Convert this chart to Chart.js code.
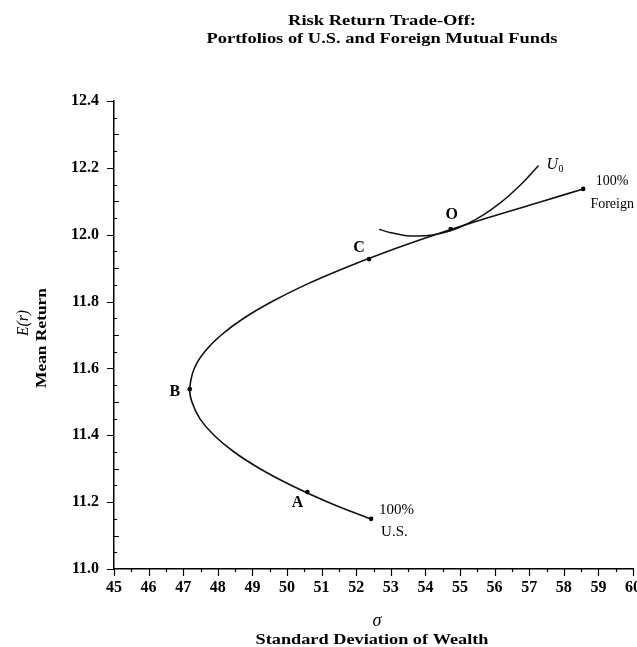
<!DOCTYPE html>
<html>
<head>
<meta charset="utf-8">
<script src="https://cdn.jsdelivr.net/npm/chart.js@4.4.1/dist/chart.umd.min.js"></script>
<style>
  html, body { margin: 0; padding: 0; background: #fff; }
</style>
</head>
<body>
<canvas id="grafico" width="637" height="647"></canvas>
<script>
// Risk / return trade-off between U.S. and foreign mutual funds.
// Values.

// efficient frontier (sigma, mean return), from 100% U.S. up to 100% Foreign
const frontierSigma = [52.40, 51.19, 50.13, 49.22, 48.47, 47.89, 47.48, 47.25, 47.19, 47.32, 47.62,
  48.10, 48.75, 49.57, 50.53, 51.65, 52.90, 54.28, 55.78, 57.39, 58.56];
const frontierReturn = [11.15, 11.20, 11.25, 11.30, 11.35, 11.40, 11.45, 11.50, 11.54, 11.60, 11.65,
  11.70, 11.75, 11.80, 11.85, 11.90, 11.95, 12.00, 12.05, 12.10, 12.137];

// indifference curve U0
const indiffSigma = [52.66, 53.0, 53.4, 53.75, 54.2, 54.7, 55.2, 55.7, 56.2, 56.7, 57.0, 57.27];
const indiffReturn = [12.016, 12.006, 11.998, 11.996, 11.999, 12.011, 12.032, 12.061, 12.098, 12.144, 12.176, 12.207];

// marked portfolios
const pointNames = ["100% U.S.", "A", "B", "C", "O", "100% Foreign"];
const pointSigma = [52.43, 50.59, 47.19, 52.37, 54.73, 58.56];
const pointReturn = [11.15, 11.23, 11.538, 11.927, 12.017, 12.137];

const xTickValues = [45, 46, 47, 48, 49, 50, 51, 52, 53, 54, 55, 56, 57, 58, 59, 60];
const yTickValues = [11.0, 11.2, 11.4, 11.6, 11.8, 12.0, 12.2, 12.4];

const SERIF = '"Liberation Serif", "DejaVu Serif", serif';

// ============================================================
// HELPERS
// ============================================================
function toXY(xs, ys) {
  return xs.map((x, i) => ({ x, y: ys[i] }));
}

// draws text, optionally squeezed/stretched to a given width
function drawText(ctx, text, x, y, font, align = "center", width = null) {
  ctx.save();
  ctx.font = font;
  ctx.fillStyle = "#000";
  ctx.textBaseline = "middle";
  ctx.textAlign = align;
  if (width) {
    const w = ctx.measureText(text).width;
    ctx.translate(x, y);
    ctx.scale(width / w, 1);
    ctx.fillText(text, 0, 0);
  } else {
    ctx.fillText(text, x, y);
  }
  ctx.restore();
}

// ============================================================
// PLUGIN — ticks in the style of the paper, titles and labels
// ============================================================
const paperPlugin = {
  id: "paperPlugin",
  afterDraw(chart) {
    const { ctx, scales: { x, y } } = chart;
    const left = x.left;
    const bottom = y.bottom;

    ctx.save();
    ctx.strokeStyle = "#000";
    ctx.lineWidth = 1.2;
    ctx.beginPath();
    for (let i = 0; i <= 28; i++) {
      const py = Math.round(y.getPixelForValue(11 + i * 0.05)) + 0.5;
      if (i % 4 === 0) {
        ctx.moveTo(left - 7, py);
        ctx.lineTo(left, py);
      } else {
        const len = i % 2 === 0 ? 5 : 3;
        ctx.moveTo(left, py);
        ctx.lineTo(left + len, py);
      }
    }
    for (let i = 0; i <= 30; i++) {
      const px = Math.round(x.getPixelForValue(45 + i * 0.5)) + 0.5;
      const len = i % 2 === 0 ? 7 : 3;
      ctx.moveTo(px, bottom);
      ctx.lineTo(px, bottom + len);
    }
    ctx.stroke();
    ctx.restore();

    // title
    drawText(ctx, "Risk Return Trade-Off:", 382, 21, `bold 14px ${SERIF}`, "center", 188);
    drawText(ctx, "Portfolios of U.S. and Foreign Mutual Funds", 382, 39, `bold 14px ${SERIF}`, "center", 351);

    // x axis title
    drawText(ctx, "σ", 377, 621, `italic 18px ${SERIF}`);
    drawText(ctx, "Standard Deviation of Wealth", 372, 640, `bold 14px ${SERIF}`, "center", 233);

    // y axis title (rotated)
    ctx.save();
    ctx.translate(24, 323);
    ctx.rotate(-Math.PI / 2);
    drawText(ctx, "E(r)", 0, 0, `italic 16px ${SERIF}`, "center", 26);
    ctx.restore();
    ctx.save();
    ctx.translate(42, 338);
    ctx.rotate(-Math.PI / 2);
    drawText(ctx, "Mean Return", 0, 0, `bold 15px ${SERIF}`, "center", 100);
    ctx.restore();

    // point labels
    const px = pointSigma.map((s) => x.getPixelForValue(s));
    const py = pointReturn.map((r) => y.getPixelForValue(r));
    const bold = `bold 16px ${SERIF}`;
    drawText(ctx, "100%", px[0] + 8, py[0] - 9, `15px ${SERIF}`, "left");
    drawText(ctx, "U.S.", px[0] + 10, py[0] + 13, `15px ${SERIF}`, "left");
    drawText(ctx, pointNames[1], px[1] - 10, py[1] + 11, bold);
    drawText(ctx, pointNames[2], px[2] - 15, py[2] + 3, bold);
    drawText(ctx, pointNames[3], px[3] - 10, py[3] - 11, bold);
    drawText(ctx, pointNames[4], px[4] + 1, py[4] - 14, bold);
    drawText(ctx, "100%", px[5] + 29, py[5] - 8, `14px ${SERIF}`);
    drawText(ctx, "Foreign", px[5] + 29, py[5] + 15, `14px ${SERIF}`);

    // U0 label at the end of the indifference curve
    const ux = x.getPixelForValue(indiffSigma[indiffSigma.length - 1]) + 8;
    const uy = y.getPixelForValue(indiffReturn[indiffReturn.length - 1]) - 1;
    drawText(ctx, "U", ux, uy, `italic 16px ${SERIF}`, "left");
    drawText(ctx, "0", ux + 12, uy + 5, `10px ${SERIF}`, "left");
  },
};

// ============================================================
// CHART
// ============================================================
new Chart(document.getElementById("grafico"), {
  type: "scatter",
  data: {
    datasets: [
      {
        label: "Frontier",
        data: toXY(frontierSigma, frontierReturn),
        showLine: true,
        borderColor: "#111",
        borderWidth: 1.6,
        pointRadius: 0,
        tension: 0.4,
      },
      {
        label: "U0",
        data: toXY(indiffSigma, indiffReturn),
        showLine: true,
        borderColor: "#111",
        borderWidth: 1.5,
        pointRadius: 0,
        tension: 0.4,
      },
      {
        label: "Portfolios",
        data: toXY(pointSigma, pointReturn),
        showLine: false,
        pointRadius: 2.3,
        pointBackgroundColor: "#000",
        pointBorderWidth: 0,
      },
    ],
  },
  options: {
    responsive: false,
    animation: false,
    devicePixelRatio: 1,
    layout: { padding: { top: 101, right: 2, left: 0, bottom: 0 } },
    plugins: { legend: { display: false }, tooltip: { enabled: false } },
    scales: {
      x: {
        type: "linear",
        min: 45,
        max: 60,
        afterBuildTicks: (scale) => { scale.ticks = xTickValues.map((value) => ({ value })); },
        afterFit: (scale) => { scale.height = 78; scale.paddingLeft = 0; scale.paddingRight = 0; },
        grid: { display: false, drawTicks: false },
        border: { display: true, color: "#000", width: 1.5 },
        ticks: {
          color: "#000",
          padding: 9,
          maxRotation: 0,
          autoSkip: false,
          font: { family: SERIF, size: 16, weight: "bold" },
          callback: (v) => String(v),
        },
      },
      y: {
        type: "linear",
        min: 11.0,
        max: 12.4,
        afterBuildTicks: (scale) => { scale.ticks = yTickValues.map((value) => ({ value })); },
        afterFit: (scale) => { scale.width = 114; scale.paddingTop = 0; scale.paddingBottom = 0; },
        grid: { display: false, drawTicks: false },
        border: { display: true, color: "#000", width: 1.5 },
        ticks: {
          color: "#000",
          padding: 15,
          autoSkip: false,
          font: { family: SERIF, size: 16, weight: "bold" },
          callback: (v) => v.toFixed(1),
        },
      },
    },
  },
  plugins: [paperPlugin],
});
</script>
</body>
</html>
